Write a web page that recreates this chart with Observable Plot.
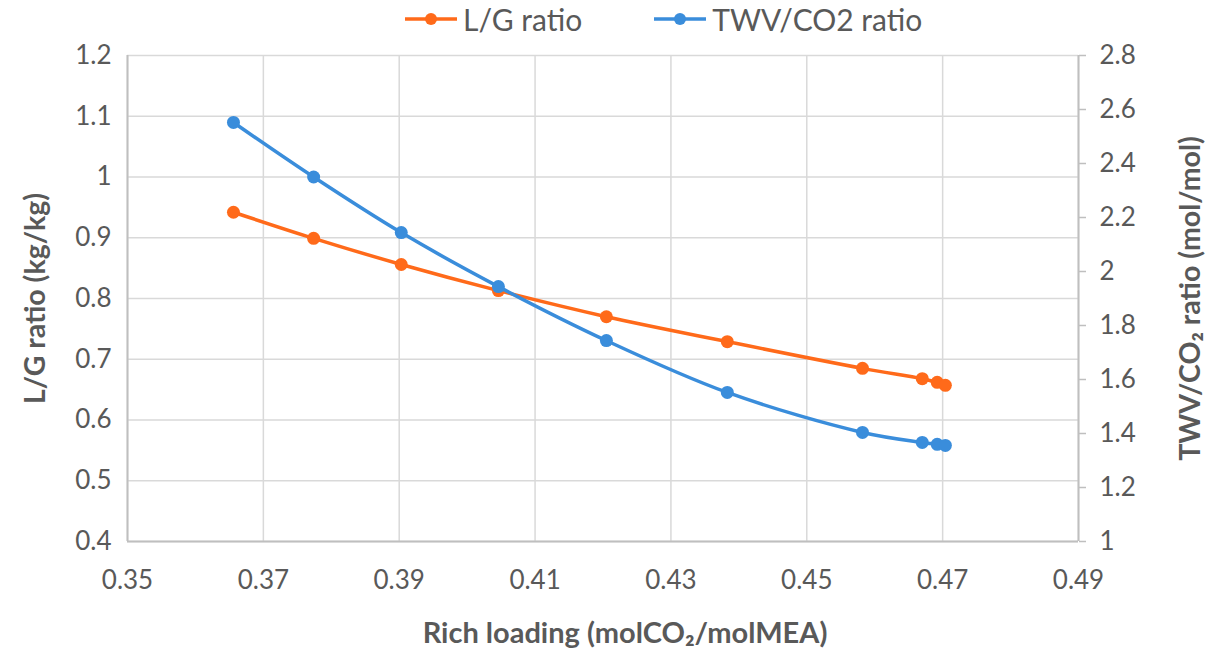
<!DOCTYPE html>
<html>
<head>
<meta charset="utf-8">
<script src="https://cdn.jsdelivr.net/npm/d3@7"></script>
<script src="https://cdn.jsdelivr.net/npm/@observablehq/plot@0.6"></script>
<style>
  html, body { margin: 0; padding: 0; background: #fff; }
  body { width: 1223px; height: 648px; overflow: hidden; font-family: Lato, "Open Sans", sans-serif; }
  #legend { height: 26px; overflow: visible; display: flex; align-items: flex-start; padding-left: 405px; box-sizing: border-box; font-size: 30px; line-height: 38px; color: #595959; position: relative; }
  .item { display: flex; align-items: center; height: 38px; }
  .item svg { margin-right: 6px; }
  .item + .item { margin-left: 72px; }
  #chart svg { background: transparent !important; display: block; }
</style>
</head>
<body>
<div id="legend"></div>
<div id="chart"></div>
<script>
// Data
const richLoading = [0.3656, 0.3774, 0.3903, 0.4046, 0.4205, 0.4383, 0.4582, 0.4670, 0.4692, 0.4704];
const lgRatio     = [0.942, 0.899, 0.856, 0.813, 0.770, 0.729, 0.685, 0.668, 0.662, 0.657];
const twvRatio    = [2.552, 2.350, 2.144, 1.944, 1.744, 1.552, 1.404, 1.367, 1.360, 1.356];

const xTicks = [0.35, 0.37, 0.39, 0.41, 0.43, 0.45, 0.47, 0.49];
const yLeftTicks = [0.4, 0.5, 0.6, 0.7, 0.8, 0.9, 1, 1.1, 1.2];
const yRightTicks = [1, 1.2, 1.4, 1.6, 1.8, 2, 2.2, 2.4, 2.6, 2.8];

const seriesNames = ["L/G ratio", "TWV/CO2 ratio"];
const colors = ["#FF6A1A", "#3A8DDB"];

const leftDomain = [0.4, 1.2];
const rightDomain = [1, 2.8];
const toLeft = v => leftDomain[0] + (v - rightDomain[0]) * (leftDomain[1] - leftDomain[0]) / (rightDomain[1] - rightDomain[0]);
const fromLeft = y => rightDomain[0] + (y - leftDomain[0]) * (rightDomain[1] - rightDomain[0]) / (leftDomain[1] - leftDomain[0]);

const lgData = richLoading.map((x, i) => ({x, y: lgRatio[i]}));
const twvData = richLoading.map((x, i) => ({x, y: toLeft(twvRatio[i])}));

// Legend
const legend = document.getElementById("legend");
seriesNames.forEach((name, i) => {
  const item = document.createElement("div");
  item.className = "item";
  item.innerHTML = `<svg width="52" height="14"><line x1="0" x2="52" y1="7" y2="7" stroke="${colors[i]}" stroke-width="3.5"/><circle cx="26" cy="7" r="6" fill="${colors[i]}"/></svg><span>${name}</span>`;
  legend.appendChild(item);
});

const gridColor = "#D9D9D9";
const axisColor = "#BFBFBF";
const textColor = "#595959";

const chart = Plot.plot({
  width: 1223,
  height: 622,
  marginTop: 29,
  marginBottom: 107,
  marginLeft: 127,
  marginRight: 145,
  style: { fontFamily: "Lato, 'Open Sans', sans-serif", fontSize: "26px", color: textColor, background: "transparent" },
  x: { domain: [0.35, 0.49] },
  y: { domain: leftDomain },
  marks: [
    Plot.gridX(xTicks, { stroke: gridColor, strokeOpacity: 1, strokeWidth: 1.5 }),
    Plot.gridY(yLeftTicks, { stroke: gridColor, strokeOpacity: 1, strokeWidth: 1.5 }),
    Plot.ruleX([0.35, 0.49], { stroke: axisColor, strokeWidth: 2 }),
    Plot.ruleY([0.4], { stroke: axisColor, strokeWidth: 2 }),
    Plot.axisX(xTicks, { tickSize: 0, tickPadding: 29, fontSize: 26, tickFormat: d => d3.format(".2f")(d), label: null, fill: textColor }),
    Plot.axisY(yLeftTicks, { anchor: "left", tickSize: 0, tickPadding: 16, fontSize: 26, tickFormat: d => d3.format("~g")(d), label: null, fill: textColor }),
    Plot.axisY(yRightTicks.map(toLeft), { anchor: "right", tickSize: 7, tickPadding: 14, fontSize: 26, stroke: axisColor, strokeWidth: 1.5,
      tickFormat: d => d3.format("~g")(Math.round(fromLeft(d) * 10) / 10), label: null, fill: textColor }),
    Plot.text([0], { frameAnchor: "bottom", dy: 92, dx: 22, text: () => "Rich loading (molCO₂/molMEA)", fontWeight: "bold", fontSize: 29, fill: textColor, lineAnchor: "middle", textAnchor: "middle" }),
    Plot.text([0], { frameAnchor: "left", dx: -92, rotate: -90, text: () => "L/G ratio (kg/kg)", fontWeight: "bold", fontSize: 28.5, fill: textColor, textAnchor: "middle", lineAnchor: "middle" }),
    Plot.text([0], { frameAnchor: "right", dx: 112, rotate: -90, text: () => "TWV/CO₂ ratio (mol/mol)", fontWeight: "bold", fontSize: 28.5, fill: textColor, textAnchor: "middle", lineAnchor: "middle" }),
    Plot.line(lgData, { x: "x", y: "y", stroke: colors[0], strokeWidth: 3.5, curve: "catmull-rom" }),
    Plot.dot(lgData, { x: "x", y: "y", fill: colors[0], r: 6.5 }),
    Plot.line(twvData, { x: "x", y: "y", stroke: colors[1], strokeWidth: 3.5, curve: "catmull-rom" }),
    Plot.dot(twvData, { x: "x", y: "y", fill: colors[1], r: 6.5 })
  ]
});
document.getElementById("chart").appendChild(chart);
</script>
</body>
</html>
